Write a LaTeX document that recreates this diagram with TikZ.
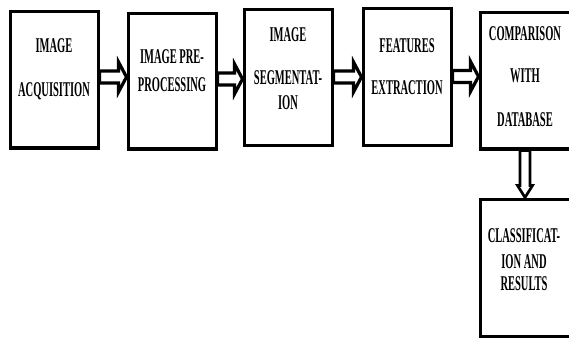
\documentclass[tikz,border=0pt]{standalone}
\usepackage{fontspec}
\setmainfont{Liberation Serif}[FakeStretch=0.5]
\usetikzlibrary{calc}
\tikzset{
  stagebox/.style={draw=black, line width=3pt, rectangle, inner sep=0pt},
  lbl/.style={inner sep=0pt, anchor=base, font=\fontsize{21}{21}\selectfont\bfseries},
  barrow/.style={draw=black, line width=3.2pt, fill=white, line join=miter},
  varrowst/.style={draw=black, line width=2.7pt, fill=white, line join=miter}
}
\newcommand\harrow[2]{\draw[barrow] let \p1=(#1), \p2=(#2) in
  (\x1,\y1+6pt) -- (\x2-8pt,\y1+6pt) -- (\x2-8pt,\y1+15pt) -- (\x2,\y1) --
  (\x2-8pt,\y1-15pt) -- (\x2-8pt,\y1-6pt) -- (\x1,\y1-6pt) -- cycle;}
\newcommand\varrow[2]{\draw[varrowst] let \p1=(#1), \p2=(#2) in
  (\x1-5pt,\y1) -- (\x1-5pt,\y2+12pt) -- (\x1-7.5pt,\y2+12pt) -- (\x1,\y2) --
  (\x1+7.5pt,\y2+12pt) -- (\x1+5pt,\y2+12pt) -- (\x1+5pt,\y1) -- cycle;}
\begin{document}
\begin{tikzpicture}[x=1pt,y=-1pt]
\clip (0,0) rectangle (569,339);
\useasboundingbox (0,0) rectangle (569,339);
\fill[white] (0,0) rectangle (569,339);

\node[stagebox, minimum width=88pt, minimum height=136pt] (b1) at (54,80) {};
\node[stagebox, minimum width=88pt, minimum height=135pt] (b2) at (172,81.5) {};
\node[stagebox, minimum width=88pt, minimum height=136pt] (b3) at (288,78) {};
\node[stagebox, minimum width=88pt, minimum height=137pt] (b4) at (407,77.5) {};
\node[stagebox, minimum width=90pt, minimum height=136pt] (b5) at (525,81) {};
\node[stagebox, minimum width=90pt, minimum height=137pt] (b6) at (525,267.5) {};

\harrow{[yshift=3pt]b1.east}{b2.west}
\harrow{[yshift=2.5pt]b2.east}{b3.west}
\harrow{[yshift=1pt]b3.east}{b4.west}
\harrow{[yshift=1pt]b4.east}{b5.west}
\varrow{b5.south}{b6.north}

\node[lbl] (t1a) at (54,53) {IMAGE};
\node[lbl] (t1b) at (54,97) {ACQUISITION};
\node[lbl] (t2a) at (172,64) {IMAGE PRE-};
\node[lbl] (t2b) at (172,92) {PROCESSING};
\node[lbl] (t3a) at (288,42) {IMAGE};
\node[lbl] (t3b) at (288,85) {SEGMENTAT-};
\node[lbl] (t3c) at (288,110) {ION};
\node[lbl] (t4a) at (407,53) {FEATURES};
\node[lbl] (t4b) at (407,95) {EXTRACTION};
\node[lbl] (t5a) at (525,41) {COMPARISON};
\node[lbl] (t5b) at (525,83) {WITH};
\node[lbl] (t5c) at (525,127) {DATABASE};
\node[lbl] (t6a) at (524,242) {CLASSIFICAT-};
\node[lbl] (t6b) at (524,268) {ION AND};
\node[lbl] (t6c) at (524,290) {RESULTS};
\end{tikzpicture}
\end{document}
